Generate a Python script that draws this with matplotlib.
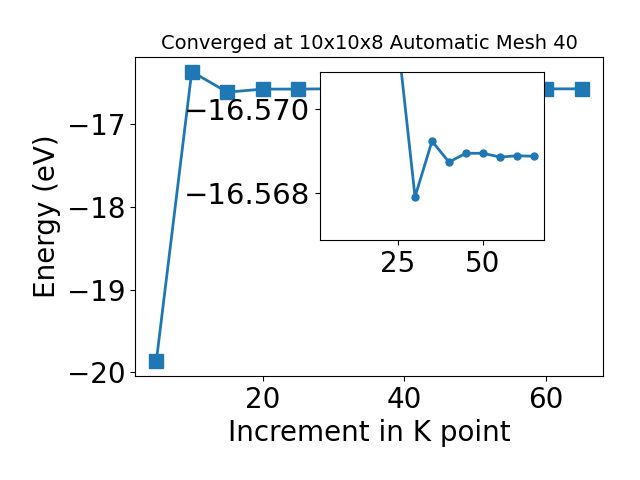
import matplotlib
matplotlib.use('Agg')
import matplotlib.pyplot as plt

kpoints = [5, 10, 15, 20, 25, 30, 35, 40, 45, 50, 55, 60, 65]
energy = [-19.87, -16.36, -16.609, -16.5722, -16.5716, -16.5679, -16.56923,
          -16.56873, -16.56894, -16.56894, -16.56885, -16.56888, -16.56887]

fig = plt.figure(figsize=(6.4, 4.8), dpi=100)
ax = fig.add_axes([0.211, 0.217, 0.731, 0.664])
ax.plot(kpoints, energy, marker='s', markersize=10, linewidth=2)
ax.set_title('Converged at 10x10x8 Automatic Mesh 40', fontsize=14)
ax.set_xlabel('Increment in K point', fontsize=20)
ax.set_ylabel('Energy (eV)', fontsize=20)
ax.tick_params(labelsize=20)

# zoomed view of the converged region (from 15 onward)
inset = fig.add_axes([0.5, 0.5, 0.35, 0.35])
inset.plot(kpoints[2:], energy[2:], marker='o', markersize=5, linewidth=2)
inset.set_xlim(ax.get_xlim())
inset.set_ylim(-16.56687, -16.57088)
inset.ticklabel_format(axis='y', useOffset=False)
inset.set_yticks([-16.570, -16.568])
inset.set_xticks([25, 50])
inset.tick_params(axis='x', labelsize=20)
inset.tick_params(axis='y', labelsize=21)

plt.savefig('out.png')
